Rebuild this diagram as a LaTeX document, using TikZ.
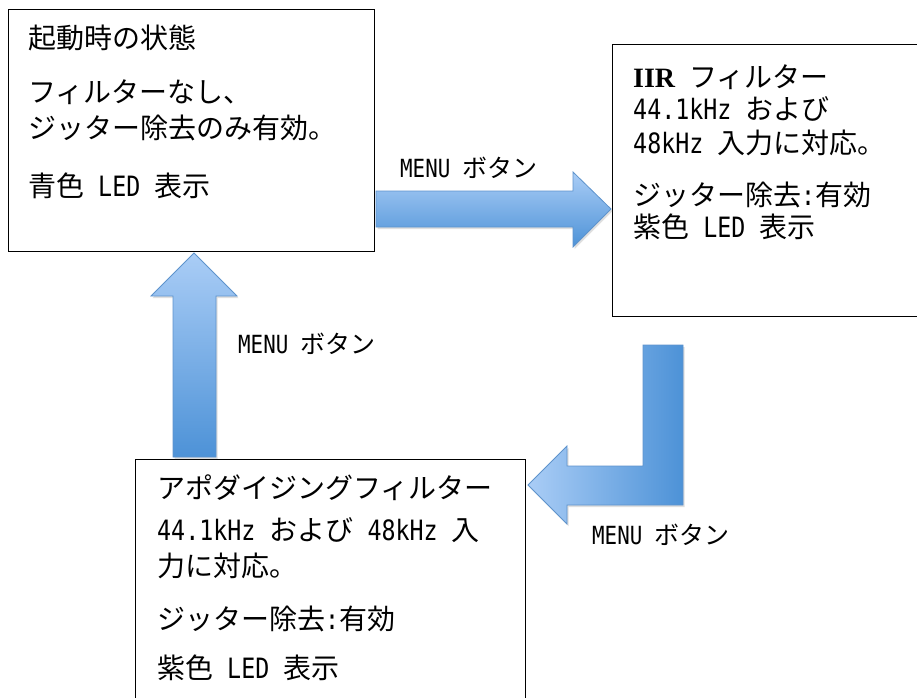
\documentclass[tikz,border=0pt]{standalone}
\usepackage{fontspec}
\setmainfont{Noto Sans CJK JP}
\newfontfamily\hw[FakeStretch=0.833]{DejaVu Sans Mono}
\newfontfamily\tms{Liberation Serif}
\newcommand\hwt[1]{{\hw #1}}
\usetikzlibrary{shadows}
\definecolor{alight}{HTML}{AACDF6}
\definecolor{adark}{HTML}{4D92D7}
\definecolor{aedge}{HTML}{5E93CC}
\tikzset{
  box/.style={draw=black, line width=1.4pt, rectangle, inner sep=0pt, anchor=north west},
  txt/.style={inner sep=0pt, anchor=base west, font=\fontsize{28}{34}\selectfont},
  lbl/.style={inner sep=0pt, anchor=base west, font=\fontsize{25}{30}\selectfont},
  blk/.style={draw=aedge, line width=0.8pt, line join=miter,
    drop shadow={opacity=0.25, shadow xshift=1.5pt, shadow yshift=-2pt}},
  vshade/.style={blk, top color=alight, bottom color=adark},
  hshade/.style={blk, left color=alight, right color=adark},
}
\begin{document}
\begin{tikzpicture}[x=1pt, y=-1pt]
\useasboundingbox (0,0) rectangle (917,697);
\clip (0,0) rectangle (917,697);
\fill[white] (0,0) rectangle (917,697);

% boxes
\node[box, minimum width=366pt, minimum height=242pt] (b1) at (8,9) {};
\node[box, minimum width=330pt, minimum height=272pt] (b2) at (612,44) {};
\node[box, minimum width=390pt, minimum height=270pt] (b3) at (135,459) {};

% box 1 text
\node[txt] (t1a) at (28,48) {起動時の状態};
\node[txt] (t1b) at (28,102) {フィルターなし、};
\node[txt] (t1c) at (28,138) {ジッター除去のみ有効。};
\node[txt] (t1d) at (28,196) {青色\hwt{ LED }表示};

% box 2 text
\node[txt] (t2a) at (633,87) {{\tms\bfseries IIR}\hspace{0.5em}フィルター};
\node[txt] (t2b) at (633,119) {\hwt{44.1kHz }および};
\node[txt] (t2c) at (633,153) {\hwt{48kHz }入力に対応。};
\node[txt] (t2d) at (633,205) {ジッター除去\hwt{:}有効};
\node[txt] (t2e) at (633,237) {紫色\hwt{ LED }表示};

% box 3 text
\node[txt] (t3a) at (157,498) {アポダイジングフィルター};
\node[txt] (t3b) at (157,540) {\hwt{44.1kHz }および\hwt{ 48kHz }入};
\node[txt] (t3c) at (157,576) {力に対応。};
\node[txt] (t3d) at (157,629) {ジッター除去\hwt{:}有効};
\node[txt] (t3e) at (157,678) {紫色\hwt{ LED }表示};

% block arrows
\coordinate (r1) at (611,209);
\coordinate (u1) at (194,253);
\coordinate (l1) at (528,485);
\path[vshade] (376,191) -- (573,191) -- (573,172) -- (r1) -- (573,247) -- (573,227) -- (376,227) -- cycle;
\path[vshade] (173,457) -- (173,296) -- (151,296) -- (u1) -- (237,296) -- (216,296) -- (216,457) -- cycle;
\path[hshade] (643,345) -- (683,345) -- (683,505) -- (567,505) -- (567,524) -- (l1) -- (567,446) -- (567,466) -- (643,466) -- cycle;

% labels
\node[lbl] (m1) at (400,177) {\hwt{MENU }ボタン};
\node[lbl] (m2) at (238,353) {\hwt{MENU }ボタン};
\node[lbl] (m3) at (592,544) {\hwt{MENU }ボタン};
\end{tikzpicture}
\end{document}
